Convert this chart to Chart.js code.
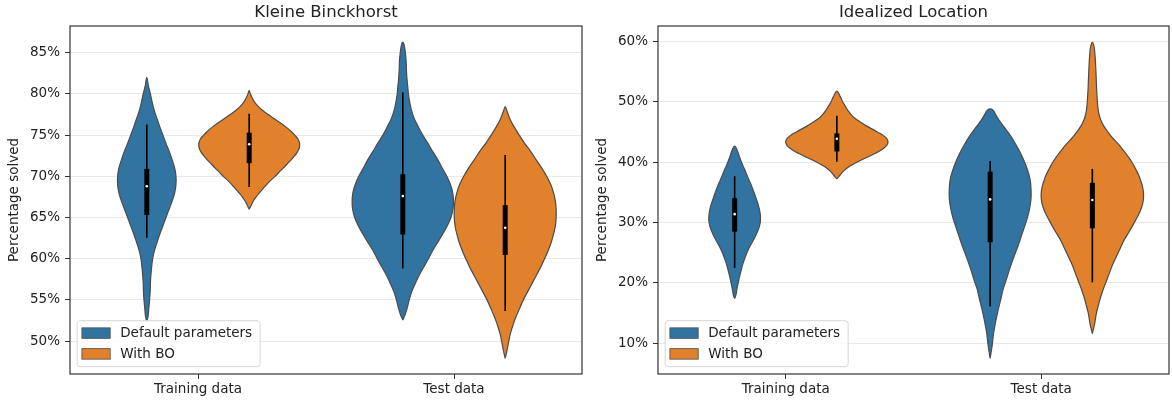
<!DOCTYPE html>
<html>
<head>
<meta charset="utf-8">
<script src="https://cdn.jsdelivr.net/npm/chart.js@4.4.1/dist/chart.umd.min.js"></script>
<style>
  html, body { margin: 0; padding: 0; background: #fff; }
  #wrap { position: relative; width: 1172px; height: 401px; }
  .panel { position: absolute; top: 0; width: 586px; height: 401px; }
</style>
</head>
<body>
<div id="wrap">
  <div class="panel" style="left:0"><canvas id="kb" width="586" height="401"></canvas></div>
  <div class="panel" style="left:586px"><canvas id="il" width="586" height="401"></canvas></div>
</div>
<script>
// ---- categories, series ----
const categories = ['Training data', 'Test data'];
const seriesNames = ['Default parameters', 'With BO'];
const seriesColors = ['#3274a1', '#e1812c'];

// ---- Kleine Binckhorst: density profiles (percentage level, half width in category units) ----
const kbTrainDefaultLevels = [52.4, 53, 54, 55, 56, 57, 58, 59, 60, 61, 62, 63, 64, 65, 66, 67, 68, 69, 70, 71, 72, 73, 74, 75, 76, 77, 78, 79, 80, 81, 82];
const kbTrainDefaultWidths = [0, .005, .008, .011, .013, .014, .016, .019, .023, .030, .040, .051, .063, .075, .087, .099, .109, .114, .114, .109, .099, .088, .075, .063, .051, .040, .029, .021, .014, .006, 0];
const kbTrainBoLevels = [66, 66.5, 67, 67.5, 68, 68.5, 69, 69.5, 70, 70.5, 71, 71.5, 72, 72.5, 73, 73.5, 74, 74.5, 75, 75.5, 76, 76.5, 77, 77.5, 78, 78.5, 79, 79.5, 80, 80.4];
const kbTrainBoWidths = [0, .008, .016, .027, .040, .054, .068, .084, .101, .117, .133, .148, .164, .178, .189, .196, .197, .191, .178, .162, .143, .121, .098, .074, .053, .035, .021, .012, .005, 0];
const kbTestDefaultLevels = [52.55, 53.2, 54, 55, 56, 57, 58, 59, 60, 61, 62, 63, 64, 65, 66, 67, 68, 69, 70, 71, 72, 73, 74, 75, 76, 77, 78, 79, 80, 81, 82, 83, 84, 85, 86, 86.3];
const kbTestDefaultWidths = [0, .009, .017, .025, .035, .049, .064, .082, .100, .117, .137, .156, .174, .188, .196, .198, .195, .186, .172, .154, .137, .117, .098, .078, .061, .045, .034, .027, .022, .019, .016, .014, .013, .010, .005, 0];
const kbTestBoLevels = [47.9, 49, 50, 51, 52, 53, 54, 55, 56, 57, 58, 59, 60, 61, 62, 63, 64, 65, 66, 67, 68, 69, 70, 71, 72, 73, 74, 75, 76, 77, 78, 78.45];
const kbTestBoWidths = [0, .008, .014, .021, .031, .043, .057, .071, .088, .105, .122, .139, .154, .168, .180, .189, .196, .199, .199, .196, .189, .178, .162, .143, .121, .100, .076, .055, .035, .018, .006, 0];

// box summaries: [lower whisker, Q1, median, Q3, upper whisker]
const kbTrainDefaultBox = [62.55, 65.3, 68.8, 70.9, 76.3];
const kbTrainBoBox = [68.7, 71.6, 73.9, 75.3, 77.6];
const kbTestDefaultBox = [58.8, 62.95, 67.6, 70.25, 80.2];
const kbTestBoBox = [53.65, 60.45, 63.75, 66.5, 72.6];
const kbTicks = [50, 55, 60, 65, 70, 75, 80, 85];

// ---- Idealized Location ----
const ilTrainDefaultLevels = [17.4, 18, 19, 20, 21, 22, 23, 24, 25, 26, 27, 28, 29, 30, 31, 32, 33, 34, 35, 36, 37, 38, 39, 40, 41, 42, 42.7];
const ilTrainDefaultWidths = [0, .005, .009, .014, .019, .025, .031, .039, .048, .059, .072, .084, .094, .100, .101, .098, .092, .084, .076, .067, .057, .047, .037, .027, .018, .010, 0];
const ilTrainBoLevels = [37.24, 37.6, 38, 38.5, 39, 39.5, 40, 40.5, 41, 41.5, 42, 42.5, 43, 43.5, 44, 44.5, 45, 45.5, 46, 46.5, 47, 47.5, 48, 48.5, 49, 49.5, 50, 50.5, 51, 51.5, 51.8];
const ilTrainBoWidths = [0, .007, .015, .025, .039, .057, .078, .102, .127, .151, .172, .188, .198, .200, .194, .180, .160, .139, .117, .098, .080, .065, .054, .045, .037, .030, .023, .018, .012, .006, 0];
const ilTestDefaultLevels = [7.5, 8.8, 10, 11.5, 13, 14.5, 16, 17.5, 19, 20.5, 22, 23.5, 25, 26.5, 28, 29.5, 31, 32.5, 34, 35.5, 37, 38.5, 40, 41.5, 43, 44.5, 45.5, 46.5, 47.5, 48.2, 48.7, 48.85];
const ilTestDefaultWidths = [0, .005, .009, .013, .019, .026, .034, .043, .051, .063, .074, .086, .099, .112, .124, .136, .147, .155, .160, .160, .157, .148, .135, .119, .100, .078, .061, .043, .027, .018, .010, 0];
const ilTestBoLevels = [11.6, 12.3, 13, 14, 15, 16, 17, 18, 19, 20, 21, 22, 23, 24, 25, 26, 27, 28, 29, 30, 31, 32, 33, 34, 35, 36, 37, 38, 39, 40, 41, 42, 43, 44, 45, 46, 47, 48, 49, 50.5, 52, 54, 56, 58, 59.3, 59.9];
const ilTestBoWidths = [0, .004, .008, .012, .016, .022, .028, .035, .043, .052, .061, .070, .079, .090, .101, .112, .123, .137, .151, .164, .177, .188, .196, .200, .200, .196, .189, .180, .168, .155, .139, .121, .102, .080, .061, .045, .033, .026, .022, .019, .017, .015, .013, .010, .006, 0];

const ilTrainDefaultBox = [22.5, 28.5, 31.4, 34.05, 37.7];
const ilTrainBoBox = [40.1, 41.8, 43.9, 44.8, 47.7];
const ilTestDefaultBox = [16.1, 26.75, 33.85, 38.45, 40.2];
const ilTestBoBox = [20.1, 29.05, 33.75, 36.6, 38.9];
const ilTicks = [10, 20, 30, 40, 50, 60];

// ---- drawing helpers ----
Chart.defaults.font.family = "'DejaVu Sans', sans-serif";
Chart.defaults.font.size = 13.5;
Chart.defaults.color = '#222';

const HUE_OFFSET = [-0.2, 0.2];
const EDGE = '#4b4b4b';

// one violin = a closed outline (filled) + whisker line + IQR bar + median dot
function violinDatasets(violins) {
  const ds = [];
  violins.forEach(v => {
    const cx = v.cat + HUE_OFFSET[v.series];
    const pts = [];
    for (let i = 0; i < v.levels.length; i++) pts.push({ x: cx - v.widths[i], y: v.levels[i] });
    for (let i = v.levels.length - 2; i >= 0; i--) pts.push({ x: cx + v.widths[i], y: v.levels[i] });
    ds.push({
      data: pts, showLine: true, fill: 'shape', tension: 0.4,
      backgroundColor: seriesColors[v.series], borderColor: EDGE, borderWidth: 1.2,
      pointRadius: 0, order: 3
    });
    const [lo, q1, med, q3, hi] = v.box;
    ds.push({
      data: [{ x: cx, y: lo }, { x: cx, y: hi }], showLine: true, borderColor: '#000',
      borderWidth: 1.6, borderCapStyle: 'butt', pointRadius: 0, order: 2
    });
    ds.push({
      data: [{ x: cx, y: q1 }, { x: cx, y: q3 }], showLine: true, borderColor: '#000',
      borderWidth: 5, borderCapStyle: 'butt', pointRadius: 0, order: 1
    });
    ds.push({
      data: [{ x: cx, y: med }], pointRadius: 1.3, pointBackgroundColor: '#fff',
      pointBorderWidth: 0, order: 0
    });
  });
  return ds;
}

// axes frame and the in-plot legend
const frameLegend = {
  id: 'frameLegend',
  afterDatasetsDraw(chart) {
    const { ctx, chartArea: a } = chart;
    ctx.save();
    ctx.strokeStyle = '#333';
    ctx.lineWidth = 1.2;
    ctx.strokeRect(a.left, a.top, a.right - a.left, a.bottom - a.top);

    ctx.font = "13.5px 'DejaVu Sans', sans-serif";
    const textW = Math.max(...seriesNames.map(n => ctx.measureText(n).width));
    const pad = 4.7, patchW = 28.3, patchH = 10.5, gap = 10, rowH = 20.8;
    const w = pad + patchW + gap + textW + 8, h = 46;
    const x = a.left + 7.2, y = a.bottom - 7.3 - h;
    ctx.beginPath();
    ctx.roundRect(x, y, w, h, 3);
    ctx.fillStyle = 'rgba(255,255,255,0.8)';
    ctx.fill();
    ctx.strokeStyle = '#d6d6d6';
    ctx.lineWidth = 1;
    ctx.stroke();
    seriesNames.forEach((name, i) => {
      const cy = y + 12.4 + i * rowH;
      ctx.fillStyle = seriesColors[i];
      ctx.fillRect(x + pad, cy - patchH / 2, patchW, patchH);
      ctx.strokeStyle = EDGE;
      ctx.lineWidth = 0.8;
      ctx.strokeRect(x + pad, cy - patchH / 2, patchW, patchH);
      ctx.fillStyle = '#222';
      ctx.textBaseline = 'middle';
      ctx.textAlign = 'left';
      ctx.fillText(name, x + pad + patchW + gap, cy + 0.5);
    });
    ctx.restore();
  }
};

function makePanel(id, cfg) {
  const chart = new Chart(document.getElementById(id), {
    type: 'scatter',
    data: { datasets: violinDatasets(cfg.violins) },
    options: {
      responsive: false, animation: false, devicePixelRatio: 1, events: [],
      layout: { padding: { left: 0, right: cfg.rightPad, top: 0, bottom: 0 }, autoPadding: false },
      plugins: {
        legend: { display: false },
        tooltip: { enabled: false },
        title: {
          display: true, text: cfg.title, fullSize: false, color: '#222',
          font: { size: 16.5, weight: 'normal' }, padding: { top: 3, bottom: 3.2 }
        }
      },
      scales: {
        x: {
          type: 'linear', min: -0.5, max: 1.5,
          afterBuildTicks: s => { s.ticks = categories.map((_, i) => ({ value: i })); },
          afterFit: s => { s.height = 27; },
          ticks: { callback: v => categories[v], color: '#222', padding: 2.5, maxRotation: 0, autoSkip: false },
          grid: { drawOnChartArea: false, drawTicks: true, tickLength: 5, tickColor: '#333', tickWidth: 1 },
          border: { display: false }
        },
        y: {
          type: 'linear', min: cfg.yMin, max: cfg.yMax,
          afterBuildTicks: s => { s.ticks = cfg.ticks.map(v => ({ value: v })); },
          afterFit: s => { s.width = cfg.yWidth; },
          ticks: { callback: v => v + '%', color: '#222', padding: 5 },
          grid: { color: '#e8e8e8', lineWidth: 1, tickColor: '#333', tickLength: 5, tickWidth: 1 },
          border: { display: false },
          title: {
            display: true, text: 'Percentage solved', color: '#222',
            font: { size: 13.5 }, padding: { top: cfg.yTitlePad, bottom: 0 }
          }
        }
      }
    },
    plugins: [frameLegend]
  });
  chart.update('none');
  return chart;
}

makePanel('kb', {
  title: 'Kleine Binckhorst', yMin: 46.0, yMax: 88.25, ticks: kbTicks,
  yWidth: 70, rightPad: 4, yTitlePad: 5.9,
  violins: [
    { cat: 0, series: 0, levels: kbTrainDefaultLevels, widths: kbTrainDefaultWidths, box: kbTrainDefaultBox },
    { cat: 0, series: 1, levels: kbTrainBoLevels, widths: kbTrainBoWidths, box: kbTrainBoBox },
    { cat: 1, series: 0, levels: kbTestDefaultLevels, widths: kbTestDefaultWidths, box: kbTestDefaultBox },
    { cat: 1, series: 1, levels: kbTestBoLevels, widths: kbTestBoWidths, box: kbTestBoBox }
  ]
});

makePanel('il', {
  title: 'Idealized Location', yMin: 4.9, yMax: 62.6, ticks: ilTicks,
  yWidth: 72, rightPad: 3, yTitlePad: 8.2,
  violins: [
    { cat: 0, series: 0, levels: ilTrainDefaultLevels, widths: ilTrainDefaultWidths, box: ilTrainDefaultBox },
    { cat: 0, series: 1, levels: ilTrainBoLevels, widths: ilTrainBoWidths, box: ilTrainBoBox },
    { cat: 1, series: 0, levels: ilTestDefaultLevels, widths: ilTestDefaultWidths, box: ilTestDefaultBox },
    { cat: 1, series: 1, levels: ilTestBoLevels, widths: ilTestBoWidths, box: ilTestBoBox }
  ]
});
</script>
</body>
</html>
